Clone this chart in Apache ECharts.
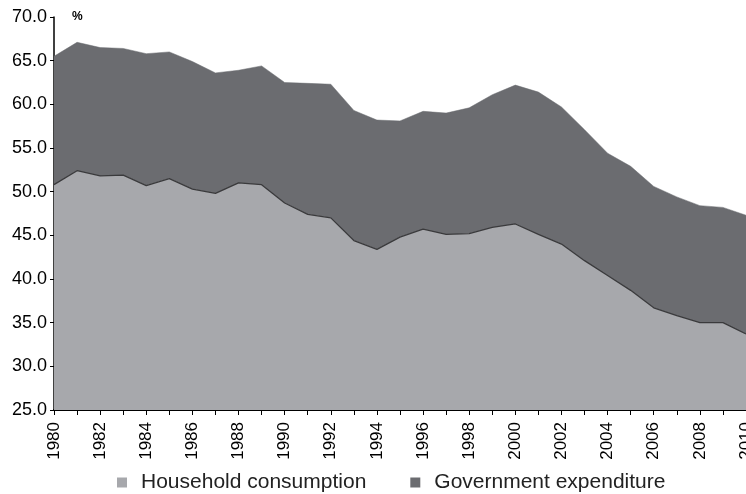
<!DOCTYPE html>
<html>
<head>
<meta charset="utf-8">
<script src="https://cdn.jsdelivr.net/npm/echarts@6/dist/echarts.min.js"></script>
<style>html,body{margin:0;padding:0;background:#fff}#c{width:746px;height:494px}</style>
</head>
<body>
<div id="c"></div>
<script>
var years = ['1980','1981','1982','1983','1984','1985','1986','1987','1988','1989','1990','1991','1992','1993','1994','1995','1996','1997','1998','1999','2000','2001','2002','2003','2004','2005','2006','2007','2008','2009','2010'];
var household = [50.8,52.4,51.8,51.9,50.7,51.5,50.3,49.8,51.0,50.8,48.7,47.4,47.0,44.4,43.4,44.8,45.7,45.1,45.2,45.9,46.3,45.1,44.0,42.1,40.4,38.7,36.7,35.8,35.0,35.0,33.7];
var total = [65.5,67.1,66.5,66.4,65.8,66.0,64.9,63.6,63.9,64.4,62.5,62.4,62.3,59.3,58.2,58.1,59.2,59.0,59.6,61.1,62.2,61.4,59.7,57.1,54.4,52.9,50.6,49.4,48.4,48.2,47.3];
var government = total.map(function(t,i){ return +(t - household[i]).toFixed(1); });
var seriesNames = ['Household consumption','Government expenditure'];

var chart = echarts.init(document.getElementById('c'));
chart.setOption({
  animation: false,
  textStyle: { fontFamily: 'Liberation Sans, Arial, sans-serif' },
  grid: { left: 54, right: 0, top: 17, bottom: 84, containLabel: false, outerBoundsMode: 'none' },
  legend: {
    data: seriesNames,
    left: 112, top: 467,
    icon: 'rect', itemWidth: 10, itemHeight: 10, itemGap: 44,
    textStyle: { fontSize: 21, color: '#222', padding: [0,0,0,9] }
  },
  graphic: [{ type: 'text', left: 72, top: 11, style: { text: '%', font: 'bold 12px Liberation Sans, Arial, sans-serif', fill: '#000' } }],
  xAxis: {
    type: 'category', data: years, boundaryGap: false,
    axisLine: { lineStyle: { color: '#000', width: 2 } },
    axisTick: { interval: 0, length: 5, lineStyle: { color: '#000' } },
    axisLabel: { interval: 1, rotate: 90, margin: 12, fontSize: 17, color: '#000', hideOverlap: false }
  },
  yAxis: {
    type: 'value', min: 25, max: 70, interval: 5,
    splitLine: { show: false },
    axisLine: { show: true, lineStyle: { color: '#000', width: 1.5 } },
    axisTick: { show: true, length: 4, lineStyle: { color: '#000' } },
    axisLabel: { fontSize: 18, color: '#000', margin: 7, formatter: function(v){ return v.toFixed(1); } }
  },
  series: [
    { name: seriesNames[0], type: 'line', stack: 'total', data: household, symbol: 'none', z: 3,
      itemStyle: { color: '#a7a8ac' },
      lineStyle: { color: '#3a3a3c', width: 1.3 },
      areaStyle: { color: '#a7a8ac', opacity: 1 } },
    { name: seriesNames[1], type: 'line', stack: 'total', data: government, symbol: 'none', z: 2,
      itemStyle: { color: '#6b6c70' },
      lineStyle: { color: '#6b6c70', width: 0.5 },
      areaStyle: { color: '#6b6c70', opacity: 1 } }
  ]
});
</script>
</body>
</html>
